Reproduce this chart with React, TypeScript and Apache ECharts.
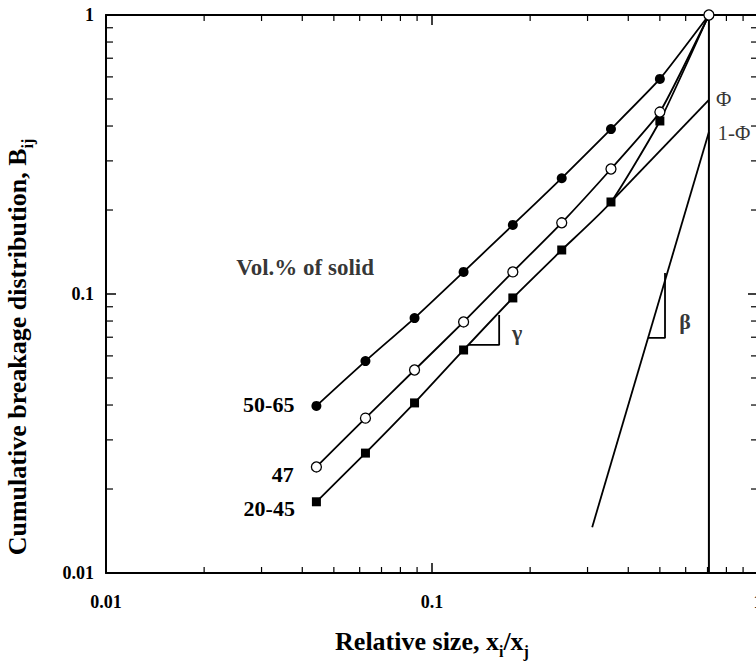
import { useEffect, useRef } from "react";
import * as echarts from "echarts";

const FONT = '"Liberation Serif", "Times New Roman", Times, serif';

// Relative size x_i/x_j (sieve classes, sqrt(2) series)
const relativeSize = [0.0442, 0.0625, 0.0884, 0.125, 0.177, 0.25, 0.354, 0.5, 0.707];
// Cumulative breakage distribution B_ij for each solids concentration
const b5065 = [0.0397, 0.0575, 0.082, 0.12, 0.1768, 0.26, 0.39, 0.59, 1];
const b47 = [0.024, 0.0359, 0.0534, 0.0794, 0.12, 0.18, 0.2806, 0.449, 1];
const b2045 = [0.018, 0.0269, 0.0407, 0.063, 0.0968, 0.1438, 0.2137, 0.417, 1];
const seriesNames = ["50-65", "47", "20-45"];

// Construction lines
const phiLineX = [0.354, 0.707];
const phiLineY = [0.2137, 0.496];
const betaLineX = [0.31, 0.707];
const betaLineY = [0.0146, 0.381];
const gammaTriX = [0.129, 0.1607, 0.1607];
const gammaTriY = [0.0657, 0.0657, 0.0841];
const betaTriX = [0.46, 0.5185, 0.5185];
const betaTriY = [0.0696, 0.0696, 0.119];
const topSizeX = [0.707, 0.707];
const topSizeY = [0.01, 1];

// Tick labels
const tickLabels = ["0.01", "0.1", "1"];
const minorTickValues = [0.02, 0.03, 0.04, 0.05, 0.06, 0.07, 0.08, 0.09, 0.2, 0.3, 0.4, 0.5, 0.6, 0.7, 0.8, 0.9];

// Annotation texts (center positions in data units)
const annoText = ["Vol.% of solid", "\u03b3", "\u03b2", "\u03a6", "1-\u03a6"];
const annoX = [0.0408, 0.1823, 0.5973, 0.784, 0.844];
const annoY = [0.124, 0.0725, 0.0794, 0.5, 0.378];
const annoSize = [23, 22, 22, 21, 21];
const annoWeight = ["bold", "bold", "bold", "normal", "normal"];

const pairs = (xs: number[], ys: number[]) => xs.map((x, i) => [x, ys[i]]);

export default function App() {
  const ref = useRef<HTMLDivElement>(null);
  useEffect(() => {
    if (!ref.current) return;
    const chart = echarts.init(ref.current, undefined, { renderer: "svg" });

    const black = "#000";
    const labelOffsets: number[][] = [[0, -1], [0, 8], [0, 7]];
    const mkData = (ys: number[], sIdx: number) =>
      relativeSize.map((x, i) => {
        const item: any = { value: [x, ys[i]] };
        if (i === 0) {
          item.label = {
            show: true,
            position: "left",
            distance: 17,
            offset: labelOffsets[sIdx],
            formatter: seriesNames[sIdx],
            fontFamily: FONT,
            fontSize: 22,
            fontWeight: "bold",
            color: black,
          };
        }
        if (i === relativeSize.length - 1 && sIdx !== 1) item.symbol = "none";
        return item;
      });

    const axisCommon: any = {
      type: "log",
      logBase: 10,
      min: 0.01,
      max: 1,
      axisLine: { show: true, onZero: false, lineStyle: { color: black, width: 2 } },
      axisTick: { show: true, inside: true, length: 10, lineStyle: { color: black, width: 1.5 } },
      splitLine: { show: false },
      minorTick: { show: false },
      minorSplitLine: { show: false },
    };
    const tickLabelStyle = {
      fontFamily: FONT,
      fontSize: 18,
      fontWeight: "bold",
      color: black,
      formatter: (_v: number, idx: number) => tickLabels[idx] ?? "",
    };
    const thinLine = (data: number[][], width = 1.8, z = 2) => ({
      type: "line",
      data,
      symbol: "none",
      silent: true,
      clip: false,
      z,
      lineStyle: { color: black, width },
    });

    const option: any = {
      animation: false,
      backgroundColor: "#fff",
      grid: { left: 106, right: -2, top: 15, bottom: 88, containLabel: false, outerBoundsMode: "none" },
      xAxis: [
        {
          ...axisCommon,
          position: "bottom",
          axisLabel: { ...tickLabelStyle, margin: 20 },
          name: "{m|Relative size, x}{s|i}{m|/x}{s|j}",
          nameLocation: "middle",
          nameGap: 50,
          nameTextStyle: {
            rich: {
              m: { fontFamily: FONT, fontSize: 26, fontWeight: "bold", color: black, lineHeight: 36 },
              s: { fontFamily: FONT, fontSize: 16, fontWeight: "bold", color: black, lineHeight: 14, verticalAlign: "bottom" },
            },
          },
        },
        { ...axisCommon, position: "top", axisLabel: { show: false } },
      ],
      yAxis: [
        { ...axisCommon, position: "left", axisLabel: { ...tickLabelStyle, margin: 12 } },
        { ...axisCommon, position: "right", axisLabel: { show: false } },
      ],
      graphic: [
        {
          type: "text",
          x: 17,
          y: 347,
          rotation: Math.PI / 2,
          style: {
            text: "{m|Cumulative breakage distribution, B}{s|ij}",
            align: "center",
            verticalAlign: "middle",
            rich: {
              m: { fontFamily: FONT, fontSize: 26, fontWeight: "bold", fill: black, lineHeight: 36 },
              s: { fontFamily: FONT, fontSize: 16, fontWeight: "bold", fill: black, lineHeight: 14, verticalAlign: "bottom" },
            },
          },
        },
      ],
      series: [
        {
          type: "custom",
          silent: true,
          clip: false,
          z: 1,
          data: minorTickValues.map((v) => [v, 0.1]),
          renderItem: (_p: any, api: any) => {
            const v = api.value(0);
            const b = api.coord([v, 0.01]);
            const t = api.coord([v, 1]);
            const st = { stroke: black, lineWidth: 1.2 };
            return {
              type: "group",
              children: [
                { type: "line", shape: { x1: b[0], y1: b[1], x2: b[0], y2: b[1] - 6 }, style: st },
                { type: "line", shape: { x1: t[0], y1: t[1], x2: t[0], y2: t[1] + 6 }, style: st },
              ],
            };
          },
        },
        {
          type: "custom",
          silent: true,
          clip: false,
          z: 1,
          data: minorTickValues.map((v) => [0.1, v]),
          renderItem: (_p: any, api: any) => {
            const v = api.value(1);
            const l = api.coord([0.01, v]);
            const r = api.coord([1, v]);
            const st = { stroke: black, lineWidth: 1.2 };
            return {
              type: "group",
              children: [
                { type: "line", shape: { x1: l[0], y1: l[1], x2: l[0] + 7, y2: l[1] }, style: st },
                { type: "line", shape: { x1: r[0], y1: r[1], x2: r[0] - 7, y2: r[1] }, style: st },
              ],
            };
          },
        },
        thinLine(pairs(topSizeX, topSizeY), 2),
        thinLine(pairs(phiLineX, phiLineY)),
        thinLine(pairs(betaLineX, betaLineY)),
        thinLine(pairs(gammaTriX, gammaTriY)),
        thinLine(pairs(betaTriX, betaTriY)),
        {
          type: "line",
          name: seriesNames[0],
          data: mkData(b5065, 0),
          symbol: "circle",
          symbolSize: 10,
          smooth: 0.15,
          clip: false,
          z: 3,
          itemStyle: { color: black },
          lineStyle: { color: black, width: 1.8 },
        },
        {
          type: "line",
          name: seriesNames[2],
          data: mkData(b2045, 2),
          symbol: "rect",
          symbolSize: 9,
          smooth: 0.15,
          clip: false,
          z: 3,
          itemStyle: { color: black },
          lineStyle: { color: black, width: 1.8 },
        },
        {
          type: "line",
          name: seriesNames[1],
          data: mkData(b47, 1),
          symbol: "circle",
          symbolSize: 10,
          smooth: 0.15,
          clip: false,
          z: 4,
          itemStyle: { color: "#fff", borderColor: black, borderWidth: 1.3 },
          lineStyle: { color: black, width: 1.8 },
        },
        {
          type: "scatter",
          silent: true,
          symbolSize: 1,
          itemStyle: { color: "transparent" },
          z: 5,
          data: annoText.map((t, i) => ({
            value: [annoX[i], annoY[i]],
            name: t,
            label: {
              show: true,
              position: "inside",
              formatter: t,
              fontFamily: FONT,
              fontSize: annoSize[i],
              fontWeight: annoWeight[i],
              color: black,
            },
          })),
        },
      ],
    };
    chart.setOption(option);
    return () => chart.dispose();
  }, []);
  return <div ref={ref} style={{ position: "absolute", left: 0, top: 0, width: 756, height: 661 }} />;
}
